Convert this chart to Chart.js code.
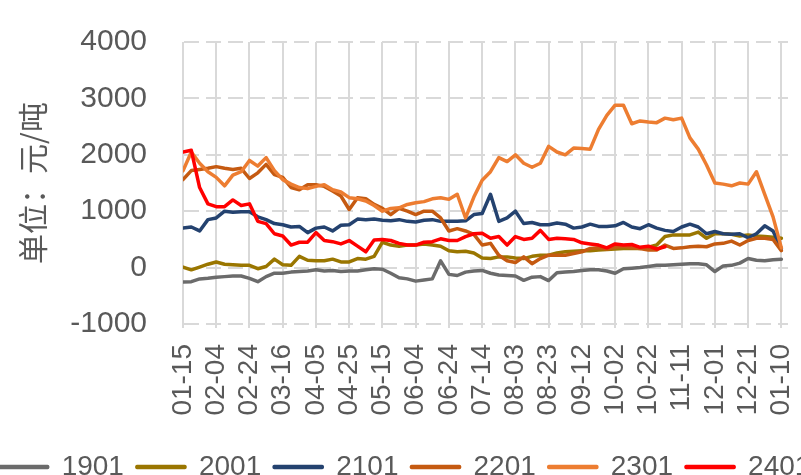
<!DOCTYPE html>
<html>
<head>
<meta charset="utf-8">
<script src="https://cdn.jsdelivr.net/npm/chart.js"></script>
<style>
  html, body { margin: 0; padding: 0; background: #fff; overflow: hidden; }
  #wrap { position: absolute; left: -45px; top: 0; width: 900px; height: 491px; }
</style>
</head>
<body>
<div id="wrap"><canvas id="spreadChart"></canvas></div>
<script>
// tick labels, one every 20 days (01-15 .. next 01-10)
const tickLabels = ['01-15','02-04','02-24','03-16','04-05','04-25','05-15','06-04','06-24','07-14',
                    '08-03','08-23','09-12','10-02','10-22','11-11','12-01','12-21','01-10']
const tickStep = 20
const sampleStep = 5   // values every 5 days

const s1901 = [-256,-250,-200,-190,-170,-160,-150,-150,-190,-250,-160,-100,-100,-80,-70,-60,-40,-60,-50,-70,
               -60,-60,-40,-20,-30,-100,-180,-200,-240,-220,-200,120,-120,-140,-80,-60,-50,-100,-130,-140,
               -150,-226,-170,-160,-230,-90,-80,-70,-50,-40,-40,-60,-100,-20,-10,0,20,40,40,50,
               60,70,70,50,-70,30,40,80,160,130,120,140,150]
const s2001 = [10,-40,10,60,100,60,50,40,40,-20,20,150,50,40,200,130,120,120,150,100,
               100,160,150,200,450,400,380,400,400,420,400,380,300,280,290,260,170,160,190,190,
               170,160,200,220,220,260,280,290,300,300,310,320,330,340,340,340,360,400,550,580,
               580,580,630,520,600,600,590,560,580,560,550,540,520]
const s2101 = [700,720,650,850,880,1000,980,990,990,900,850,780,760,720,730,620,700,720,650,750,
               760,860,850,860,840,830,850,820,810,840,850,820,820,820,830,940,960,1300,820,880,
               1000,780,800,760,760,790,770,700,720,770,730,730,740,800,720,690,760,700,660,640,
               720,770,720,600,640,600,590,600,530,600,740,650,340]
const s2201 = [1560,1720,1740,1760,1790,1760,1740,1760,1580,1680,1830,1650,1600,1420,1380,1470,1470,1440,1360,1270,
               1030,1240,1220,1120,1050,940,1050,1000,940,1000,1000,880,650,690,650,590,400,430,220,120,
               90,190,70,160,220,220,220,250,280,340,350,330,360,380,350,340,310,310,400,340,
               350,370,380,370,420,430,470,400,480,520,520,500,300]
const s2301 = [1715,2050,1850,1700,1600,1450,1640,1700,1900,1800,1950,1720,1560,1480,1420,1400,1440,1470,1380,1340,
               1240,1220,1180,1100,1000,1050,1060,1120,1150,1170,1220,1240,1210,1300,880,1250,1550,1700,1950,1880,
               2000,1850,1780,1850,2150,2050,2000,2120,2110,2100,2450,2700,2880,2880,2550,2600,2580,2570,2650,2620,
               2650,2300,2100,1820,1500,1480,1450,1500,1480,1700,1300,900,350]
const s2401 = [2050,2080,1420,1130,1080,1080,1200,1100,1130,820,780,600,560,400,450,450,620,480,460,420,
               480,380,280,490,500,480,430,400,400,450,460,510,480,480,550,600,610,520,550,400,
               550,500,520,660,500,520,510,500,440,420,400,350,420,400,410,360,380,330,370]

const seriesNames  = ['1901','2001','2101','2201','2301','2401']
const seriesValues = [s1901, s2001, s2101, s2201, s2301, s2401]
const seriesColors = ['#6b6b6b','#9a7600','#24426f','#c55a11','#ed7d31','#ff0000']

Chart.defaults.font.family = "'Liberation Sans', 'Noto Sans CJK SC', sans-serif"
const textGray = '#595959'
const gridGray = '#d9d9d9'
const gridDash = [15, 7]

const datasets = seriesNames.map((name, i) => ({
    label: name,
    data: seriesValues[i].map((v, k) => ({ x: k * sampleStep, y: v })),
    borderColor: seriesColors[i],
    backgroundColor: seriesColors[i],
    order: seriesNames.length - i   // later contracts drawn on top
}))

let ctx = document.getElementById('spreadChart').getContext('2d')
let myChart = new Chart(ctx, {
    type: 'line',
    data: { datasets: datasets },
    options: {
        responsive: true,
        maintainAspectRatio: false,
        animation: false,
        layout: { padding: { top: 42, left: 0, right: 0, bottom: 0 } },
        elements: {
            point: { radius: 0 },
            line: { borderWidth: 3.5, tension: 0, borderCapStyle: 'round', borderJoinStyle: 'round' }
        },
        plugins: {
            tooltip: { enabled: false },
            legend: {
                position: 'bottom',
                labels: {
                    boxWidth: 48,
                    boxHeight: 1,
                    padding: 13,
                    color: textGray,
                    font: { size: 28 },
                    sort: (a, b) => a.datasetIndex - b.datasetIndex
                }
            }
        },
        scales: {
            x: {
                type: 'linear',
                min: 0,
                max: 364,
                afterFit: s => { s.height = 116 },
                ticks: {
                    stepSize: tickStep,
                    includeBounds: false,
                    autoSkip: false,
                    minRotation: 90,
                    maxRotation: 90,
                    padding: 16,
                    color: textGray,
                    font: { size: 28 },
                    callback: v => (v % tickStep === 0 ? tickLabels[v / tickStep] : null)
                },
                grid: { color: gridGray, lineWidth: 2, tickLength: 4, tickColor: gridGray },
                border: { display: false }
            },
            y: {
                min: -1000,
                max: 4000,
                afterFit: s => { s.width = 228 },
                ticks: { stepSize: 1000, padding: 0, color: textGray, font: { size: 30 }, callback: v => String(v) },
                // transparent tick marks keep the labels away from the plot
                grid: { color: gridGray, lineWidth: 2, tickLength: 36, tickColor: 'rgba(0,0,0,0)' },
                // border must be "on" for the dash to reach the grid lines
                border: { display: true, color: 'rgba(0,0,0,0)', dash: gridDash },
                title: {
                    display: true,
                    text: '单位：元/吨',
                    color: textGray,
                    font: { size: 30, family: "'Noto Sans CJK SC', sans-serif" },
                    padding: { top: 60, bottom: 0 }
                }
            },
            // empty right-hand box so the plot ends where the reference does
            yRight: {
                position: 'right',
                afterFit: s => { s.width = 67 },
                grid: { display: false },
                ticks: { display: false },
                border: { display: false }
            }
        }
    }
})
</script>
</body>
</html>
